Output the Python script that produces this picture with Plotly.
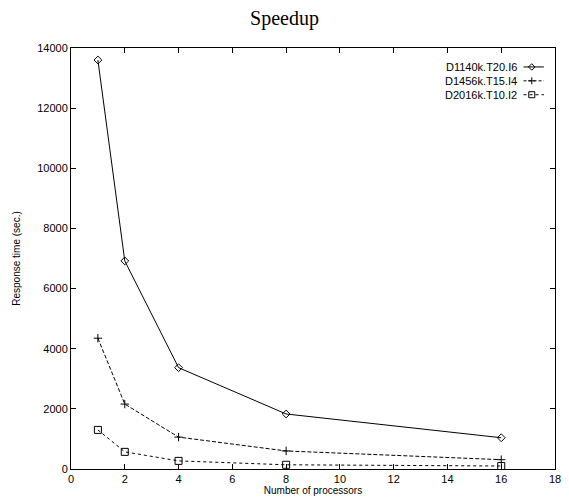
import plotly.graph_objects as go

processors = [1, 2, 4, 8, 16]
d1140k = [13600, 6920, 3370, 1830, 1040]
d1456k = [4350, 2160, 1060, 600, 310]
d2016k = [1300, 570, 270, 140, 100]
series_names = ["D1140k.T20.I6", "D1456k.T15.I4", "D2016k.T10.I2"]
x_ticks = list(range(0, 19, 2))
y_ticks = list(range(0, 14001, 2000))
y_tick_text = [str(v) for v in y_ticks]

styles = [
    dict(dash="solid", symbol="diamond-open", size=6),
    dict(dash="4px,2px", symbol="cross-thin-open", size=6),
    dict(dash="dot", symbol="square-open", size=7),
]

fig = go.Figure()
for name, vals, st in zip(series_names, [d1140k, d1456k, d2016k], styles):
    fig.add_trace(go.Scatter(
        x=processors, y=vals, name=name, mode="lines+markers",
        line=dict(color="black", width=1, dash=st["dash"]),
        marker=dict(symbol=st["symbol"], size=st["size"], color="black",
                    line=dict(color="black", width=1)),
        showlegend=False,
    ))

# custom gnuplot-style legend (text then sample) on an overlay axis
leg_y = [0.955, 0.922, 0.889]
for name, yy, st in zip(series_names, leg_y, styles):
    fig.add_trace(go.Scatter(
        x=[0.935, 0.977], y=[yy, yy], xaxis="x2", yaxis="y2", mode="lines",
        line=dict(color="black", width=1, dash=st["dash"] if st["dash"] != "4px,2px" else "3px,2px"),
        showlegend=False, hoverinfo="skip"))
    fig.add_trace(go.Scatter(
        x=[0.952], y=[yy], xaxis="x2", yaxis="y2", mode="markers",
        marker=dict(symbol=st["symbol"], size=st["size"] - 1, color="black",
                    line=dict(color="black", width=1)),
        showlegend=False, hoverinfo="skip"))
    fig.add_annotation(x=0.925, y=yy, xref="x2", yref="y2", text=name,
                       showarrow=False, xanchor="right", yanchor="middle",
                       font=dict(family="Liberation Sans", size=11, color="black"))

axis_common = dict(
    showgrid=False, zeroline=False, showline=True, linecolor="black", linewidth=1,
    mirror="ticks", ticks="inside", ticklen=5, tickcolor="black",
    tickfont=dict(family="Liberation Sans", size=11, color="black"),
)

fig.update_layout(
    width=569, height=502,
    margin=dict(l=71, r=8, t=48, b=33),
    paper_bgcolor="white", plot_bgcolor="white",
    title=dict(text="Speedup", x=0.5, xanchor="center", y=0.965, yanchor="middle",
               font=dict(family="Liberation Serif", size=20, color="black")),
    xaxis=dict(range=[0, 18], tickvals=x_ticks, **axis_common,
               title=dict(text="Number of processors", standoff=2,
                          font=dict(family="Liberation Sans", size=10, color="black"))),
    yaxis=dict(range=[0, 14000], tickvals=y_ticks, ticktext=y_tick_text, **axis_common,
               title=dict(text="Response time (sec.)", standoff=14,
                          font=dict(family="Liberation Sans", size=10, color="black"))),
    xaxis2=dict(range=[0, 1], overlaying="x", visible=False, fixedrange=True),
    yaxis2=dict(range=[0, 1], overlaying="y", visible=False, fixedrange=True),
)

fig.write_html("out.html")
